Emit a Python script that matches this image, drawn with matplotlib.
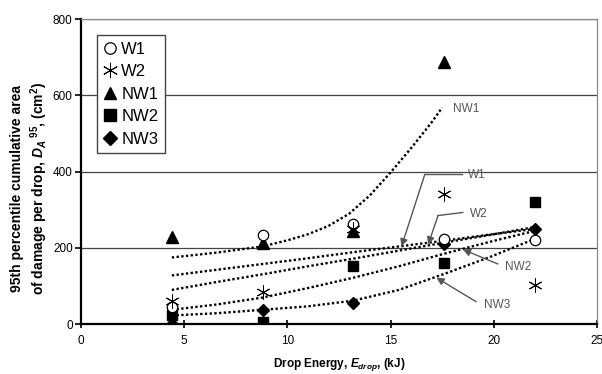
import numpy as np
import matplotlib
matplotlib.use("Agg")
import matplotlib.pyplot as plt

plt.rcParams['font.family'] = ['Liberation Sans', 'DejaVu Sans']
plt.rcParams['mathtext.fontset'] = 'custom'
plt.rcParams['mathtext.rm'] = 'Liberation Sans:bold'
plt.rcParams['mathtext.it'] = 'Liberation Sans:italic:bold'
plt.rcParams['mathtext.bf'] = 'Liberation Sans:bold'

# drop energies (kJ) and 95th percentile damage area per drop (cm^2)
energy = [4.4, 8.8, 13.2, 17.6, 22.0]
w1 = [45, 234, 262, 223, 220]
w2 = [62, 84, 250, 341, 102]
nw1_energy = [4.4, 8.8, 13.2, 17.6]
nw1 = [229, 212, 244, 688]
nw2 = [24, 5, 154, 160, 321]
nw3 = [0, 37, 55, 210, 249]

# trend lines
trend_x = [4.4, 6.6, 8.8, 11.0, 13.2, 15.4, 17.6, 19.8, 22.0]
w1_trend = [128, 143, 158, 173, 189, 204, 219, 235, 250]
w2_trend = [90, 111, 131, 152, 172, 193, 214, 234, 255]
nw2_trend = [38, 52, 70, 95, 122, 152, 185, 216, 245]
nw3_trend = [23, 29, 38, 47, 62, 90, 132, 176, 224]
nw1_trend_x = [4.4, 6.6, 8.8, 10.0, 11.0, 12.0, 13.0, 14.0, 15.0, 16.0, 17.0, 17.5]
nw1_trend = [175, 188, 204, 220, 236, 258, 290, 338, 398, 462, 530, 568]

fig = plt.figure(figsize=(6.02, 3.74), dpi=100)
ax = fig.add_axes([0.1346, 0.133, 0.857, 0.816])

dot = (0, (1, 1))
for tx, ty in [(trend_x, w1_trend), (trend_x, w2_trend), (trend_x, nw2_trend),
               (trend_x, nw3_trend), (nw1_trend_x, nw1_trend)]:
    ax.plot(tx, ty, color='black', lw=1.7, linestyle=dot, zorder=2)

ax.plot(energy, w1, 'o', ms=7.5, mfc='white', mec='black', mew=0.9, label='W1', zorder=4)
ax.plot(energy, w2, marker=(6, 2, 0), ms=10, color='black', mew=0.7, ls='none', label='W2', zorder=4)
ax.plot(nw1_energy, nw1, '^', ms=8.5, color='black', ls='none', label='NW1', zorder=3)
ax.plot(energy, nw2, 's', ms=7.5, color='black', ls='none', label='NW2', zorder=3)
ax.plot(energy, nw3, 'D', ms=6.5, color='black', ls='none', label='NW3', zorder=3)

# callout labels for trend lines
grey = '#555555'
callouts = [
    ('W1', (19.2, 390), (16.66, 393), (15.53, 204)),
    ('W2', (19.25, 290), (17.3, 285), (16.82, 209)),
    ('NW2', (21.2, 150), None, (18.5, 196)),
    ('NW3', (20.15, 51), None, (17.22, 122)),
]
for name, txt, elbow, tip in callouts:
    ax.text(txt[0], txt[1], name, color=grey, fontsize=8.5, ha='center', va='center', zorder=6)
    if elbow is not None:
        ax.plot([txt[0] - 0.75, elbow[0]], [txt[1] + 3, elbow[1]], color=grey, lw=1, zorder=5)
        start = elbow
    else:
        start = (txt[0] - 1.0, txt[1] + 8)
    ax.annotate('', xy=tip, xytext=start,
                arrowprops=dict(arrowstyle='-|>', color=grey, lw=1,
                                mutation_scale=11, shrinkA=0, shrinkB=0), zorder=5)
ax.text(18.64, 564, 'NW1', color=grey, fontsize=8.5, ha='center', va='center')

ax.set_xlim(0, 25)
ax.set_ylim(0, 800)
ax.set_xticks(range(0, 26, 5))
ax.set_yticks(range(0, 801, 200))
ax.yaxis.grid(True, color='#444444', lw=0.9)
ax.set_axisbelow(True)
ax.tick_params(axis='both', labelsize=8.5, colors='black', width=1.2)
ax.tick_params(axis='y', direction='out', length=4, pad=2)
ax.tick_params(axis='x', direction='inout', length=6, pad=5)
for side in ['left', 'bottom']:
    ax.spines[side].set_linewidth(1.6)
for side in ['top', 'right']:
    ax.spines[side].set_color('#888888')
    ax.spines[side].set_linewidth(0.9)

fig.text(0.5631, 0.026, r'Drop Energy, $E_{drop}$, (kJ)', fontsize=8.5,
         fontweight='bold', ha='center', va='center')
fig.text(0.05, 0.497,
         '95th percentile cumulative area\nof damage per drop, $D_A$$^{\\ 95}$, (cm$^2$)',
         rotation=90, fontsize=10, fontweight='bold', ha='center', va='center',
         multialignment='center', linespacing=1.25)

leg = ax.legend(loc='upper left', bbox_to_anchor=(0.031, 0.948), borderaxespad=0,
                fontsize=12, handlelength=0.8, handletextpad=0.25, markerscale=1.1,
                labelspacing=0.45, borderpad=0.4, frameon=True, fancybox=False,
                edgecolor='#444444', framealpha=1)
leg.get_frame().set_linewidth(1.0)

fig.savefig('out.png', dpi=100)
